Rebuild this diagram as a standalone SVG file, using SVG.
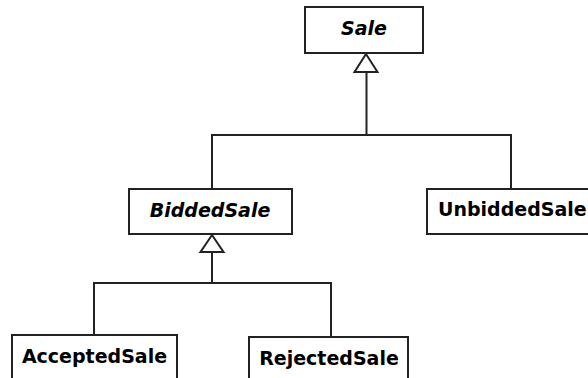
<svg xmlns="http://www.w3.org/2000/svg" width="588" height="378" viewBox="0 0 588 378">
  <style>
    .box { fill: #ffffff; stroke: #222222; stroke-width: 2; }
    .lbl { font-family: "DejaVu Sans", sans-serif; font-weight: bold; font-size: 19px; fill: #000000; text-anchor: middle; }
    .abs { font-style: italic; }
    .edge { fill: none; stroke: #222222; stroke-width: 2; }
    .head { fill: #ffffff; stroke: #222222; stroke-width: 2; stroke-linejoin: miter; }
  </style>
  <rect width="588" height="378" fill="#ffffff"/>

  <g id="connectors">
    <!-- Sale generalization tree -->
    <polyline class="edge" points="366.5,72 366.5,135"/>
    <polyline class="edge" points="212,189 212,135 511,135 511,189"/>
    <polygon class="head" points="366,54 354.5,72 377.5,72"/>
    <!-- BiddedSale generalization tree -->
    <polyline class="edge" points="212,252 212,283"/>
    <polyline class="edge" points="94,335 94,283 331,283 331,337"/>
    <polygon class="head" points="212,235 200.5,252 223.5,252"/>
  </g>

  <g id="Sale">
    <rect class="box" x="305" y="7" width="118" height="46"/>
    <text class="lbl abs" x="364" y="35">Sale</text>
  </g>

  <g id="BiddedSale">
    <rect class="box" x="129" y="189" width="163" height="45"/>
    <text class="lbl abs" x="210" y="217">BiddedSale</text>
  </g>

  <g id="UnbiddedSale">
    <rect class="box" x="427" y="189" width="175" height="45"/>
    <text class="lbl" x="438" y="216" style="text-anchor:start">UnbiddedSale</text>
  </g>

  <g id="AcceptedSale">
    <rect class="box" x="12" y="335" width="165" height="60"/>
    <text class="lbl" x="94.5" y="363">AcceptedSale</text>
  </g>

  <g id="RejectedSale">
    <rect class="box" x="249" y="337" width="159" height="60"/>
    <text class="lbl" x="329" y="365">RejectedSale</text>
  </g>
</svg>
